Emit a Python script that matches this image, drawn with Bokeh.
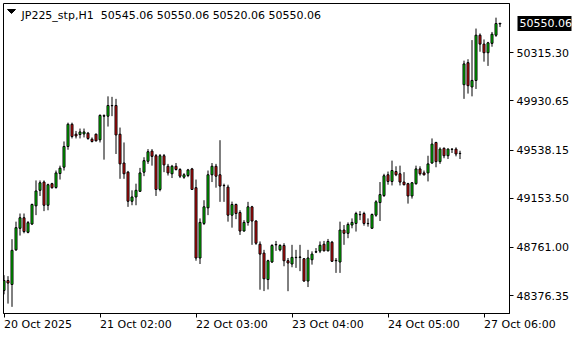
from bokeh.plotting import figure
from bokeh.models import ColumnDataSource, FixedTicker, Label, Range1d, PolyAnnotation, LinearAxis
from bokeh.embed import file_html
from bokeh.resources import INLINE

# ---- data (JP225_stp, H1) ----
opens = [
    48418, 48497, 48466, 48742, 48914, 48998, 48882, 48948, 49093, 49217,
    49283, 49098, 49270, 49240, 49351, 49402, 49567, 49744, 49665, 49662,
    49667, 49673, 49625, 49665, 49620, 49809, 49809, 49892, 49894, 49665,
    49435, 49362, 49130, 49164, 49209, 49362, 49449, 49530, 49493, 49224,
    49493, 49409, 49349, 49409, 49383, 49322, 49335, 49388, 49238, 48677,
    48953, 49077, 49341, 49409, 49341, 49256, 49243, 49019, 49104, 49040,
    48892, 48961, 49085, 48972, 48787, 48716, 48505, 48645, 48785, 48742,
    48777, 48655, 48629, 48682, 48682, 48671, 48493, 48663, 48724, 48732,
    48787, 48734, 48803, 48655, 48645, 48900, 48874, 48940, 48953, 49022,
    49032, 48951, 48914, 49019, 49119, 49175, 49341, 49288, 49367, 49349,
    49283, 49270, 49172, 49270, 49388, 49356, 49356, 49435, 49599, 49446,
    49552, 49493, 49544, 49546, 49512, 50060, 50236, 50042, 50094, 50455,
    50384, 50315, 50390, 50455, 50545.06]
closes = [
    48497, 48477, 48738, 48919, 48998, 48888, 48959, 49104, 49212, 49277,
    49098, 49262, 49238, 49356, 49394, 49567, 49744, 49647, 49651, 49683,
    49683, 49631, 49607, 49612, 49815, 49813, 49894, 49894, 49659, 49428,
    49349, 49130, 49164, 49217, 49356, 49454, 49525, 49488, 49224, 49493,
    49420, 49356, 49409, 49383, 49330, 49341, 49380, 49224, 48677, 48961,
    49085, 49341, 49409, 49330, 49251, 49254, 49019, 49104, 49032, 48892,
    48961, 49085, 48972, 48795, 48708, 48511, 48655, 48777, 48782, 48777,
    48655, 48637, 48682, 48680, 48685, 48493, 48677, 48708, 48727, 48779,
    48734, 48809, 48651, 48658, 48900, 48874, 48945, 48961, 49032, 49024,
    48953, 48953, 49024, 49125, 49183, 49333, 49288, 49375, 49341, 49283,
    49262, 49172, 49277, 49388, 49349, 49341, 49428, 49586, 49446, 49546,
    49493, 49546, 49546, 49507, 49510, 50226, 50052, 50094, 50455, 50384,
    50315, 50394, 50463, 50548, 50550.06]
highs = [
    48540, 48532, 48827, 48967, 49032, 49032, 48972, 49111, 49296, 49296,
    49296, 49270, 49277, 49375, 49414, 49607, 49757, 49757, 49691, 49710,
    49710, 49683, 49639, 49670, 49823, 49823, 49967, 49963, 49947, 49718,
    49599, 49372, 49217, 49270, 49396, 49481, 49546, 49546, 49507, 49507,
    49507, 49428, 49420, 49435, 49394, 49354, 49388, 49396, 49303, 48993,
    49138, 49375, 49435, 49428, 49617, 49270, 49262, 49127, 49111, 49058,
    48979, 49125, 49093, 48979, 48809, 48742, 48663, 48787, 48813, 48787,
    48795, 48677, 48782, 48742, 48782, 48677, 48742, 48730, 48756, 48809,
    48813, 48829, 48813, 48677, 48967, 48940, 48961, 48993, 49046, 49051,
    49046, 48993, 49032, 49138, 49283, 49349, 49367, 49454, 49409, 49414,
    49362, 49277, 49283, 49414, 49409, 49375, 49493, 49631, 49604, 49560,
    49560, 49552, 49552, 49560, 49533, 50252, 50263, 50416, 50508, 50469,
    50421, 50402, 50481, 50595, 50550.06]
lows = [
    48387, 48313, 48287, 48734, 48856, 48874, 48874, 48940, 49019, 49172,
    49051, 49058, 49230, 49230, 49303, 49375, 49541, 49631, 49631, 49631,
    49639, 49620, 49599, 49607, 49599, 49462, 49726, 49809, 49507, 49309,
    49309, 49085, 49098, 49098, 49206, 49330, 49428, 49414, 49172, 49209,
    49362, 49335, 49315, 49375, 49315, 49309, 49322, 49222, 48655, 48629,
    48940, 49019, 49283, 49238, 49125, 49125, 48967, 48919, 48987, 48861,
    48888, 48935, 48782, 48782, 48424, 48413, 48426, 48637, 48734, 48730,
    48611, 48412, 48603, 48598, 48572, 48487, 48445, 48624, 48716, 48716,
    48730, 48730, 48645, 48558, 48558, 48782, 48835, 48914, 48888, 48979,
    48935, 48927, 48914, 49006, 48972, 49164, 49262, 49256, 49330, 49256,
    49256, 49111, 49151, 49262, 49335, 49335, 49288, 49428, 49401, 49428,
    49473, 49467, 49515, 49488, 49467, 49947, 49989, 49967, 50026, 50323,
    50244, 50210, 50363, 50442, 50520.06]

time_tick_bars = [0, 24, 48, 72, 96, 120]
time_tick_labels = ["20 Oct 2025", "21 Oct 02:00", "22 Oct 03:00",
                    "23 Oct 04:00", "24 Oct 05:00", "27 Oct 06:00"]
price_ticks = [50315.30, 49930.65, 49538.15, 49153.50, 48761.00, 48376.35]
price_tick_labels = ["50315.30", "49930.65", "49538.15", "49153.50", "48761.00", "48376.35"]

symbol = "JP225_stp,H1"
last_price = closes[-1]

BULL = "#00E600"
BEAR = "#F01010"
FONT = "DejaVu Sans"

Y_LO, Y_HI = 48234, 50708
FRAME_H = 313
PX = (Y_HI - Y_LO) / FRAME_H  # price units per screen pixel

idx = list(range(len(opens)))
tops = [max(o, c) for o, c in zip(opens, closes)]
bots = [min(o, c) for o, c in zip(opens, closes)]
cols = [BULL if c >= o else BEAR for o, c in zip(opens, closes)]
src = ColumnDataSource(dict(i=idx, high=highs, low=lows, top=tops, bottom=bots, color=cols))

inner = [(i, t - PX / 2, b + PX / 2, c) for i, t, b, c in zip(idx, tops, bots, cols) if t - b > PX * 1.2]
src_in = ColumnDataSource(dict(i=[r[0] for r in inner], top=[r[1] for r in inner],
                               bottom=[r[2] for r in inner], color=[r[3] for r in inner]))

p = figure(width=580, height=340, output_backend="svg", toolbar_location=None,
           x_range=Range1d(-0.125, 126.375), y_range=Range1d(Y_LO, Y_HI),
           y_axis_location="right",
           min_border_left=3, min_border_top=3, min_border_right=71, min_border_bottom=24)
p.background_fill_color = "white"
p.border_fill_color = "white"
p.outline_line_color = "black"
p.outline_line_width = 1
p.outline_line_alpha = 1
p.xgrid.visible = False
p.ygrid.visible = False

# wicks, black body frame, coloured body fill
p.segment(x0="i", y0="low", x1="i", y1="high", source=src, line_color="black", line_width=1)
p.vbar(x="i", width=0.5, top="top", bottom="bottom", source=src,
       fill_color="black", line_color="black", line_width=1)
p.vbar(x="i", width=0.25, top="top", bottom="bottom", source=src_in,
       fill_color="color", line_color=None)

for ax in (p.xaxis[0], p.yaxis[0]):
    ax.major_tick_out = 4
    ax.major_tick_in = 0
    ax.minor_tick_out = 0
    ax.minor_tick_in = 0
    ax.axis_line_color = "black"
    ax.major_tick_line_color = "black"
    ax.major_label_text_font = FONT
    ax.major_label_text_font_size = "11px"
    ax.major_label_text_color = "black"

p.xaxis.ticker = FixedTicker(ticks=time_tick_bars)
p.xaxis.major_label_overrides = {t: s for t, s in zip(time_tick_bars, time_tick_labels)}
p.xaxis.major_label_orientation = -0.0001   # tiny negative angle -> labels start at the tick
p.xaxis.major_label_standoff = 7

p.yaxis.ticker = FixedTicker(ticks=price_ticks)
p.yaxis.major_label_overrides = {t: s for t, s in zip(price_ticks, price_tick_labels)}
p.yaxis.major_label_standoff = 3

# current price marker: an outer axis whose single tick is drawn inwards as a black box
price_axis = LinearAxis(ticker=FixedTicker(ticks=[last_price]),
                        major_label_overrides={last_price: f"{last_price:.2f}"},
                        axis_line_color=None,
                        major_tick_in=54, major_tick_out=0,
                        major_tick_line_width=15, major_tick_line_color="black",
                        major_tick_line_cap="butt",
                        minor_tick_in=0, minor_tick_out=0,
                        major_label_standoff=-52,
                        major_label_text_font=FONT, major_label_text_font_size="11px",
                        major_label_text_color="white")
p.add_layout(price_axis, "right")

# header text
p.add_layout(PolyAnnotation(xs=[4, 12, 8], ys=[304, 304, 300], xs_units="screen", ys_units="screen",
                            fill_color="black", fill_alpha=1, line_color="black", line_alpha=1))
p.add_layout(Label(x=18, y=298.5, x_units="screen", y_units="screen",
                   text=f"{symbol}\u00a0 " + " ".join(f"{v:.2f}" for v in (opens[-1], highs[-1], lows[-1], closes[-1])),
                   text_font=FONT, text_font_size="11px", text_color="black",
                   text_baseline="alphabetic"))

open("out.html", "w").write(file_html(p, INLINE))
